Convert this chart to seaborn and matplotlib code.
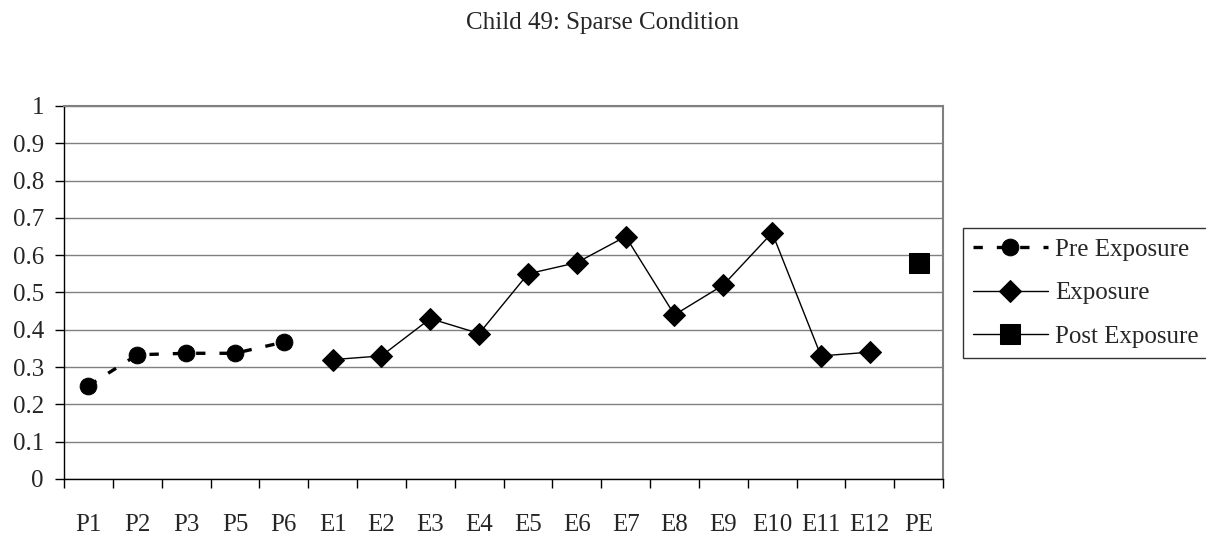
import matplotlib
matplotlib.use("Agg")
import matplotlib.pyplot as plt
import pandas as pd
import seaborn as sns

# ── Données ───────────────────────────────────────────────────────────────────
CATEGORIES = ["P1", "P2", "P3", "P5", "P6",
              "E1", "E2", "E3", "E4", "E5", "E6", "E7", "E8", "E9", "E10", "E11", "E12",
              "PE"]
PRE_LABELS = ["P1", "P2", "P3", "P5", "P6"]
PRE_VALUES = [0.25, 0.333, 0.337, 0.337, 0.367]
EXP_LABELS = ["E1", "E2", "E3", "E4", "E5", "E6", "E7", "E8", "E9", "E10", "E11", "E12"]
EXP_VALUES = [0.32, 0.33, 0.43, 0.39, 0.55, 0.58, 0.65, 0.44, 0.52, 0.66, 0.33, 0.34]
POST_LABELS = ["PE"]
POST_VALUES = [0.58]
Y_TICKS = [0, 0.1, 0.2, 0.3, 0.4, 0.5, 0.6, 0.7, 0.8, 0.9, 1]
TITLE = "Child 49: Sparse Condition"

FONT = ["Liberation Serif", "DejaVu Serif"]
GRID = "#808080"
FS = 18


def _frame(labels, values):
    return pd.DataFrame({
        "pos": [CATEGORIES.index(c) for c in labels],
        "val": values,
    })


sns.set_theme(style="white")
plt.rcParams["font.family"] = FONT

fig = plt.figure(figsize=(12.06, 5.35), dpi=100)
fig.patch.set_facecolor("white")
ax = fig.add_axes([0.0531, 0.1047, 0.7289, 0.6972])

sns.lineplot(data=_frame(PRE_LABELS, PRE_VALUES), x="pos", y="val", ax=ax,
             color="black", linewidth=2.4, marker="o", markersize=12,
             markeredgecolor="black", label="Pre Exposure", sort=False)
ax.lines[-1].set_dashes((2.8, 4.2))
sns.lineplot(data=_frame(EXP_LABELS, EXP_VALUES), x="pos", y="val", ax=ax,
             color="black", linewidth=1.0, marker="D", markersize=11,
             markeredgecolor="black", label="Exposure", sort=False)
sns.lineplot(data=_frame(POST_LABELS, POST_VALUES), x="pos", y="val", ax=ax,
             color="black", linewidth=1.0, marker="s", markersize=15,
             markeredgecolor="black", label="Post Exposure", sort=False)

# axes
ax.set_xlim(-0.5, len(CATEGORIES) - 0.5)
ax.set_ylim(0, 1)
ax.set_yticks(Y_TICKS)
ax.set_yticklabels([f"{v:g}" for v in Y_TICKS], fontsize=FS)
ax.set_xticks(range(len(CATEGORIES)))
ax.set_xticklabels(CATEGORIES, fontsize=FS)
ax.set_xticks([i - 0.5 for i in range(len(CATEGORIES) + 1)], minor=True)
ax.tick_params(axis="x", which="major", length=0, pad=25)
ax.tick_params(axis="x", which="minor", length=6.5, width=1, color="black", direction="out", bottom=True)
ax.tick_params(axis="y", which="major", length=6.5, width=1, color="black", direction="out", left=True, pad=8)
ax.set_xlabel("")
ax.set_ylabel("")

ax.grid(axis="y", color=GRID, linewidth=1.0)
ax.set_axisbelow(True)
for side in ("left", "bottom"):
    ax.spines[side].set_color("black")
    ax.spines[side].set_linewidth(1.0)
ax.spines["right"].set_color(GRID)
ax.spines["right"].set_linewidth(1.5)
ax.spines["top"].set_color(GRID)
ax.spines["top"].set_linewidth(1.5)

fig.text(0.5, 0.957, TITLE, ha="center", va="center", fontsize=FS, family=FONT)

legend = ax.legend(loc="upper left", bbox_to_anchor=(0.7985, 0.573),
                   bbox_transform=fig.transFigure, borderaxespad=0,
                   fontsize=FS, handlelength=3.0, handletextpad=0.3,
                   labelspacing=0.84, frameon=True, fancybox=False,
                   borderpad=0.4)
legend.get_frame().set_edgecolor("black")
legend.get_frame().set_linewidth(1.0)

fig.savefig("out.png", dpi=100)
